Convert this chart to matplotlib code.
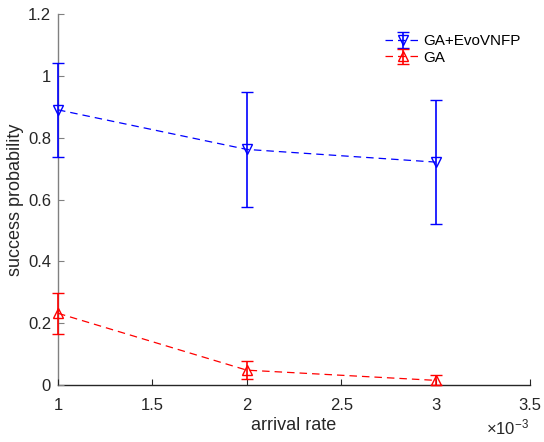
import matplotlib
matplotlib.use("Agg")
import matplotlib.pyplot as plt
from matplotlib.ticker import FuncFormatter, FixedLocator

plt.rcParams['font.family'] = ['Liberation Sans', 'DejaVu Sans']
plt.rcParams['mathtext.fontset'] = 'custom'
plt.rcParams['mathtext.rm'] = 'Liberation Sans'
plt.rcParams['mathtext.it'] = 'Liberation Sans'
plt.rcParams['mathtext.sf'] = 'Liberation Sans'

arrival_rate = [1e-3, 2e-3, 3e-3]
evo_mean = [0.89, 0.762, 0.721]
evo_err = [0.152, 0.185, 0.201]
ga_mean = [0.232, 0.048, 0.015]
ga_err = [0.067, 0.030, 0.016]

x_ticks = [1e-3, 1.5e-3, 2e-3, 2.5e-3, 3e-3, 3.5e-3]
y_ticks = [0, 0.2, 0.4, 0.6, 0.8, 1.0, 1.2]

fig = plt.figure(figsize=(5.44, 4.42), dpi=100)
ax = fig.add_axes([58/544, 1-385/442, (530-58)/544, (385-14)/442])

for mean, err, col, mk, lab in [(evo_mean, evo_err, '#0000ff', 'v', 'GA+EvoVNFP'),
                                (ga_mean, ga_err, '#ff0000', '^', 'GA')]:
    cont = ax.errorbar(arrival_rate, mean, yerr=err, color=col, linestyle='--',
                       linewidth=0.9, dashes=(6, 4), marker=mk, markersize=7,
                       markerfacecolor='none', markeredgecolor=col, markeredgewidth=1.0,
                       capsize=4, elinewidth=1.2, capthick=1.2, label=lab, zorder=3)
    for artist in cont.get_children():
        artist.set_clip_on(False)

ax.set_xlim(1e-3, 3.5e-3)
ax.set_ylim(0, 1.2)
ax.xaxis.set_major_locator(FixedLocator(x_ticks))
ax.yaxis.set_major_locator(FixedLocator(y_ticks))
ax.xaxis.set_major_formatter(FuncFormatter(lambda v, p: ('%g' % round(v * 1000, 3))))
ax.yaxis.set_major_formatter(FuncFormatter(lambda v, p: ('%g' % round(v, 3))))

for s in ['top', 'right']:
    ax.spines[s].set_visible(False)
ax.spines['left'].set_color('#808080')
ax.spines['bottom'].set_color('#262626')
ax.spines['left'].set_linewidth(1.0)
ax.spines['bottom'].set_linewidth(1.0)
ax.spines['left'].set_zorder(1)
ax.spines['bottom'].set_zorder(1)
ax.tick_params(direction='in', length=4, width=0.8, labelsize=12, colors='#262626', pad=9)
ax.tick_params(axis='y', colors='#808080', labelcolor='#262626', pad=5)

ax.set_xlabel('arrival rate', fontsize=13, color='#262626', labelpad=3)
ax.set_ylabel('success probability', fontsize=13, color='#262626', labelpad=3)

ax.text(0.997, -0.088, r'$\times$10$^{\mathsf{-3}}$', transform=ax.transAxes, ha='right', va='top',
        fontsize=12, color='#262626')

leg = ax.legend(loc='upper right', bbox_to_anchor=(1.0, 0.97), frameon=False, fontsize=11,
                handlelength=2.3, handletextpad=0.2, labelspacing=0.15, borderaxespad=0.2)

fig.savefig('out.png', dpi=100)
